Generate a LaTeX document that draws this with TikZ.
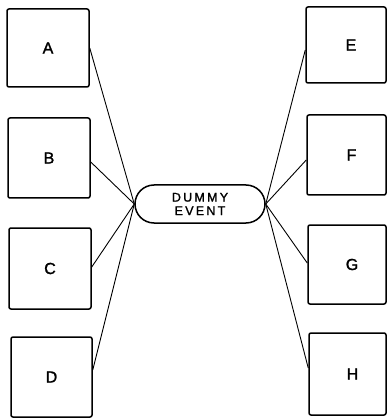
\documentclass[tikz,border=0pt]{standalone}
\usepackage{fontspec}
\setmainfont{Liberation Sans}[FakeBold=1.5]
\usetikzlibrary{calc}
\tikzset{
 box/.style={draw, line width=1.5pt, rounded corners=2pt, inner sep=0pt, font=\fontsize{16}{16}\selectfont\bfseries\mdseries\addfontfeature{FakeBold=1.5}},
 rbox/.style={box, execute at begin node=\hspace*{10pt}},
 evbox/.style={draw, line width=1.5pt, rounded corners=19pt, minimum width=130pt, minimum height=38pt, inner sep=0pt, align=center, font=\fontsize{12.5}{13.5}\selectfont\addfontfeature{FakeBold=1.5,LetterSpace=18}},
 link/.style={line width=0.9pt}
}
\begin{document}
\begin{tikzpicture}[x=1pt,y=-1pt]
\useasboundingbox (0,0) rectangle (387,419);
\node[box, minimum width=82pt, minimum height=78pt] (A) at (48,48) {A};
\node[box, minimum width=82pt, minimum height=80pt] (B) at (49,158) {B};
\node[box, minimum width=82pt, minimum height=81pt] (C) at (50,268.5) {C};
\node[box, minimum width=81pt, minimum height=80pt] (D) at (51.5,377) {D};
\node[rbox, minimum width=80pt, minimum height=76pt] (E) at (346,45) {E};
\node[rbox, minimum width=79pt, minimum height=80pt] (F) at (346.5,155) {F};
\node[rbox, minimum width=78pt, minimum height=79pt] (G) at (347,264.5) {G};
\node[rbox, minimum width=77pt, minimum height=82pt] (H) at (347.5,374) {H};
\node[evbox] (ev) at (200,204) {DUMMY\\EVENT};
\draw[link] (A.east) -- (ev.west);
\draw[link] ([yshift=-4pt]B.east) -- (ev.west);
\draw[link] ([yshift=1.5pt]C.east) -- (ev.west);
\draw[link] ([yshift=7pt]D.east) -- (ev.west);
\draw[link] ([yshift=-5pt]E.west) -- (ev.east);
\draw[link] ([yshift=-5pt]F.west) -- (ev.east);
\draw[link] ([yshift=1.5pt]G.west) -- (ev.east);
\draw[link] ([yshift=6pt]H.west) -- (ev.east);
\end{tikzpicture}
\end{document}
